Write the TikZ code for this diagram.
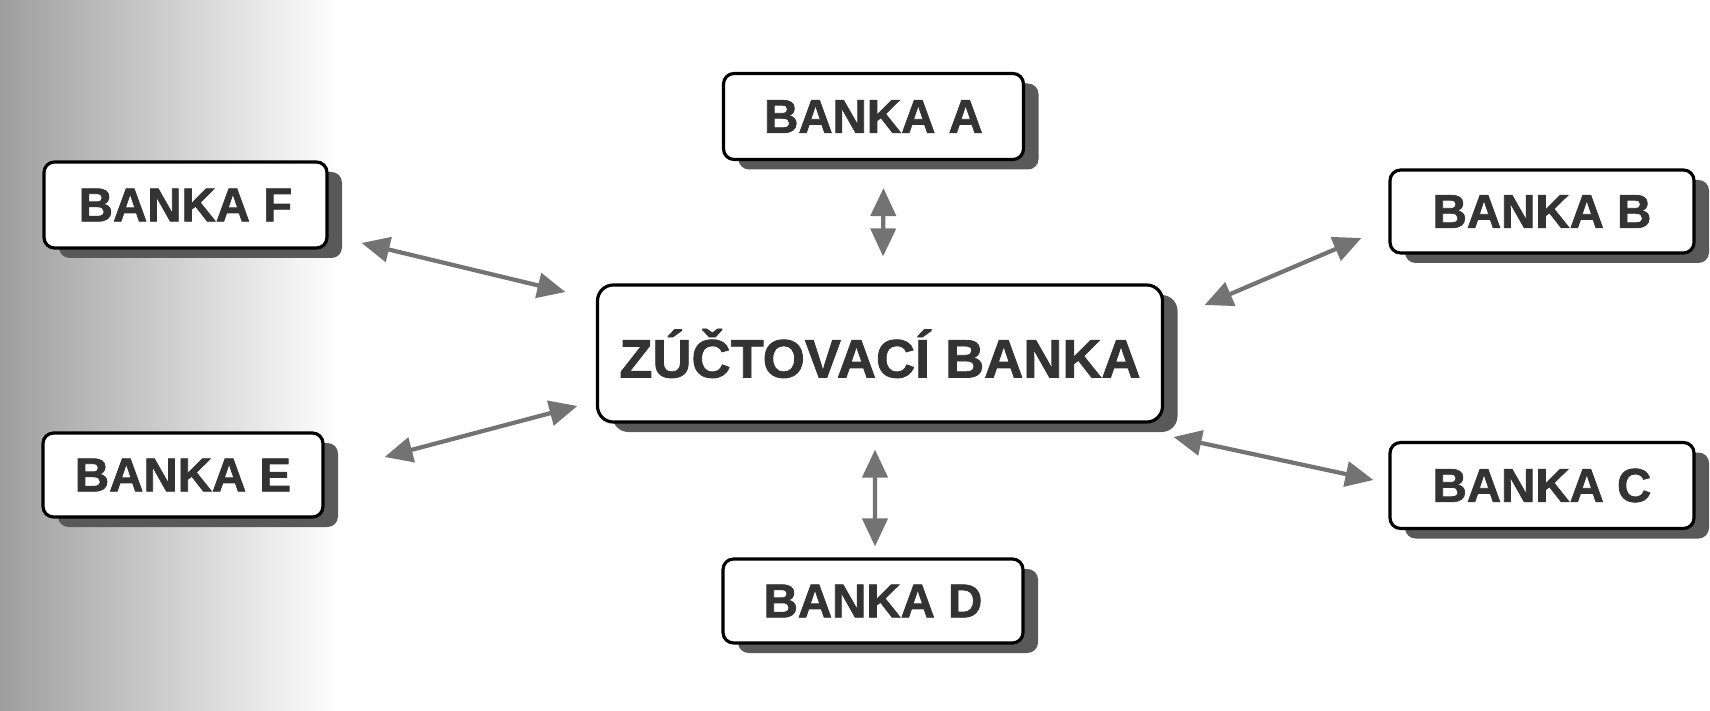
\documentclass[tikz,border=0pt]{standalone}
\usepackage{fontspec}
\setmainfont{Liberation Sans}
\newfontfamily\bankfont[BoldFeatures={FakeBold=1.5}]{Liberation Sans}
\usetikzlibrary{shadows,arrows.meta}
\begin{document}
\begin{tikzpicture}[
 bank/.style={draw=black,line width=0.9pt,fill=white,rounded corners=3pt,inner sep=0pt,minimum width=3cm,minimum height=0.86cm,text=black!80,font=\bankfont\bfseries\fontsize{13.5}{16}\selectfont,drop shadow={shadow xshift=0.15cm,shadow yshift=-0.1cm,fill=black!65,opacity=1}},
 link/.style={arrows={Triangle[length=0.28cm,width=0.25cm]-Triangle[length=0.28cm,width=0.25cm]},line width=1.2pt,black!55}]
\useasboundingbox (0,0) rectangle (17.1,7.1);
\shade[left color=black!38,middle color=black!14,right color=white] (0,0) rectangle (3.4,7.1);
\node[bank,minimum width=5.65cm,minimum height=1.37cm,rounded corners=4.5pt,font=\bankfont\bfseries\fontsize{15.4}{18}\selectfont] (zuct) at (8.80,3.565) {ZÚČTOVACÍ BANKA};
\node[bank] (bankaA) at (8.735,5.935) {BANKA A};
\node[bank,minimum width=3.04cm,minimum height=0.83cm] (bankaB) at (15.42,4.985) {BANKA B};
\node[bank,minimum width=3.04cm] (bankaC) at (15.42,2.245) {BANKA C};
\node[bank,minimum height=0.84cm] (bankaD) at (8.73,1.09) {BANKA D};
\node[bank,minimum width=2.8cm,minimum height=0.84cm] (bankaE) at (1.83,2.35) {BANKA E};
\node[bank,minimum width=2.83cm] (bankaF) at (1.855,5.05) {BANKA F};
\draw[link] ([shift={(0.10,-0.27)}]bankaA.south) -- ([shift={(0.03,0.27)}]zuct.north);
\draw[link] ([shift={(0.405,0.485)}]zuct.east) -- ([shift={(-0.27,-0.265)}]bankaB.west);
\draw[link] ([shift={(0.095,-0.835)}]zuct.east) -- ([shift={(-0.15,0.055)}]bankaC.west);
\draw[link] ([shift={(-0.05,-0.26)}]zuct.south) -- ([shift={(0.02,0.11)}]bankaD.north);
\draw[link] ([shift={(0.60,0.18)}]bankaE.east) -- ([shift={(-0.185,-0.525)}]zuct.west);
\draw[link] ([shift={(0.33,-0.38)}]bankaF.east) -- ([shift={(-0.305,0.615)}]zuct.west);
\end{tikzpicture}
\end{document}
